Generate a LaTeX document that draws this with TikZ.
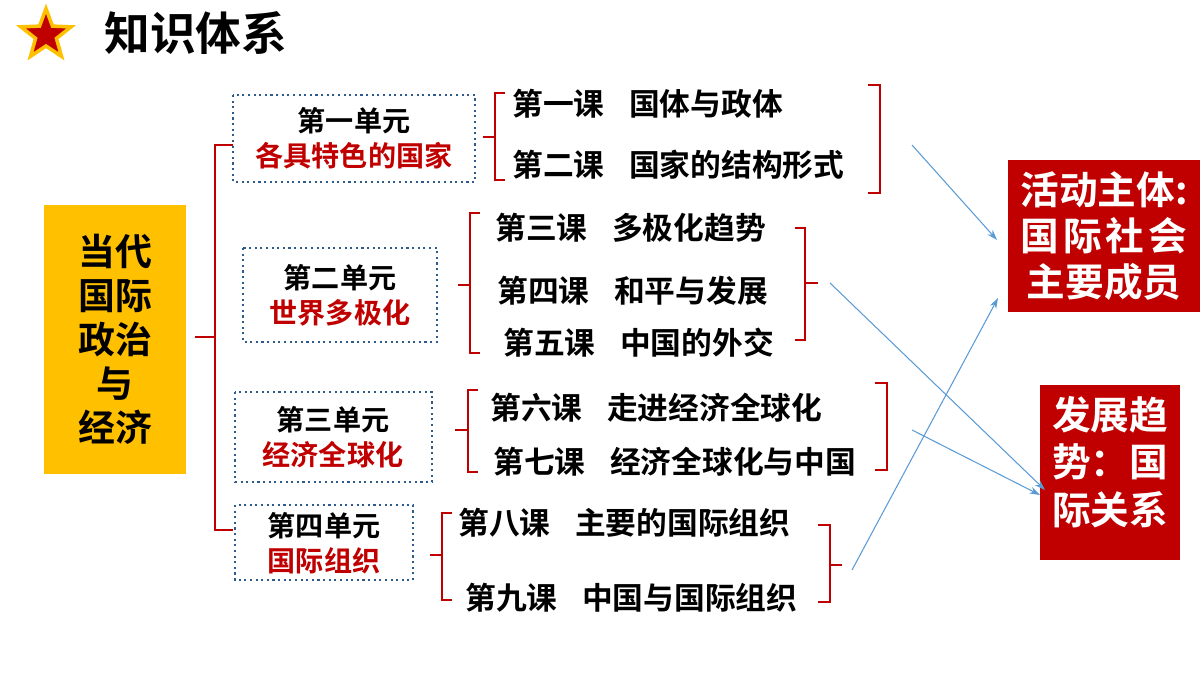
\documentclass[tikz,border=0pt]{standalone}
\usepackage{fontspec}
\setmainfont{Noto Sans CJK SC}
\newfontfamily\cjkb{Noto Sans CJK SC Bold}
\usetikzlibrary{shapes.geometric,arrows.meta}
\definecolor{dred}{HTML}{C00000}
\definecolor{gold}{HTML}{FFC000}
\definecolor{dotb}{HTML}{2E5C8A}
\definecolor{arb}{HTML}{5B9BD5}
\begin{document}
\begin{tikzpicture}[x=0.02cm,y=-0.02cm,
  unit/.style={draw=dotb,dotted,line width=1.2pt,inner sep=0pt},
  ut/.style={align=center,font=\cjkb\fontsize{16}{20}\selectfont},
  les/.style={anchor=west,font=\cjkb\fontsize{17.5}{19}\selectfont,inner sep=0pt},
  br/.style={draw=dred,line width=0.9pt},
  arr/.style={draw=arb,line width=0.6pt,-{Stealth[length=6pt,width=4pt]}},
  rbox/.style={text=white,align=center,inner sep=0pt}]
\useasboundingbox (0,0) rectangle (1200,675);
% star + title
\node[star,star points=5,star point ratio=2.4,fill=dred,draw=gold,line width=2pt,minimum size=30pt,inner sep=0pt] (star) at (46,35) {};
\node[anchor=west,font=\cjkb\fontsize{26}{28}\selectfont,inner sep=0pt] (title) at (104,33) {知识体系};
% main box
\fill[gold] (44,205) rectangle (186,474);
\node[align=center,font=\cjkb\fontsize{21}{25}\selectfont] (mt) at (115,339) {当代\\国际\\政治\\与\\经济};
% left brace
\coordinate (lb) at (195,337);
\draw[br] (lb) -- (215,337);
\draw[br] (233,145) -- (215,145) -- (215,530) -- (233,530);
% units
\draw[unit] (233,95) rectangle (475,182);
\node[ut] (u1) at (354,138) {第一单元\\\textcolor{dred}{各具特色的国家}};
\draw[unit] (243,248) rectangle (437,342);
\node[ut] (u2) at (340,295) {第二单元\\\textcolor{dred}{世界多极化}};
\draw[unit] (235,392) rectangle (432,482);
\node[ut] (u3) at (333,437) {第三单元\\\textcolor{dred}{经济全球化}};
\draw[unit] (235,505) rectangle (413,580);
\node[ut] (u4) at (324,543) {第四单元\\\textcolor{dred}{国际组织}};
% lesson braces
\draw[br] (505,93) -- (495,93) -- (495,180) -- (505,180); \draw[br] (483,137) -- (495,137);
\draw[br] (480,213) -- (470,213) -- (470,353) -- (480,353); \draw[br] (458,285) -- (470,285);
\draw[br] (478,390) -- (468,390) -- (468,472) -- (478,472); \draw[br] (455,430) -- (468,430);
\draw[br] (452,513) -- (442,513) -- (442,600) -- (452,600); \draw[br] (430,555) -- (442,555);
% lessons
\node[les] (l1) at (512,104) {第一课\hspace{0.8em}国体与政体};
\node[les] (l2) at (512,165) {第二课\hspace{0.8em}国家的结构形式};
\node[les] (l3) at (495,228) {第三课\hspace{0.8em}多极化趋势};
\node[les] (l4) at (497,291) {第四课\hspace{0.8em}和平与发展};
\node[les] (l5) at (503,343) {第五课\hspace{0.8em}中国的外交};
\node[les] (l6) at (490,408) {第六课\hspace{0.8em}走进经济全球化};
\node[les] (l7) at (493,462) {第七课\hspace{0.8em}经济全球化与中国};
\node[les] (l8) at (458,523) {第八课\hspace{0.8em}主要的国际组织};
\node[les] (l9) at (465,598) {第九课\hspace{0.8em}中国与国际组织};
% right braces
\draw[br] (868,85) -- (880,85) -- (880,193) -- (868,193); \coordinate (ra) at (912,145);
\draw[br] (795,228) -- (805,228) -- (805,340) -- (795,340); \draw[br] (805,283) -- (818,283); \coordinate (rb) at (830,283);
\draw[br] (875,383) -- (887,383) -- (887,470) -- (875,470); \coordinate (rc) at (912,430);
\draw[br] (818,525) -- (830,525) -- (830,602) -- (818,602); \draw[br] (830,565) -- (842,565); \coordinate (rd) at (852,570);
% red boxes
\fill[dred] (1008,160) rectangle (1200,312);
\node[rbox,font=\cjkb\fontsize{22}{26}\selectfont] (r1) at (1104,236) {活动主体:\\国\hspace{0.1em}际\hspace{0.1em}社\hspace{0.1em}会\\主要成员};
\fill[dred] (1040,385) rectangle (1180,560);
\node[rbox,font=\cjkb\fontsize{22}{27}\selectfont] (r2) at (1110,462) {发展趋\\势：国\\际关系};
\coordinate (t1) at (997,240);
\coordinate (t2) at (1045,490);
\coordinate (t3) at (1040,495);
\coordinate (t4) at (998,298);
\draw[arr] (ra) -- (t1);
\draw[arr] (rb) -- (t2);
\draw[arr] (rc) -- (t3);
\draw[arr] (rd) -- (t4);
\end{tikzpicture}
\end{document}
